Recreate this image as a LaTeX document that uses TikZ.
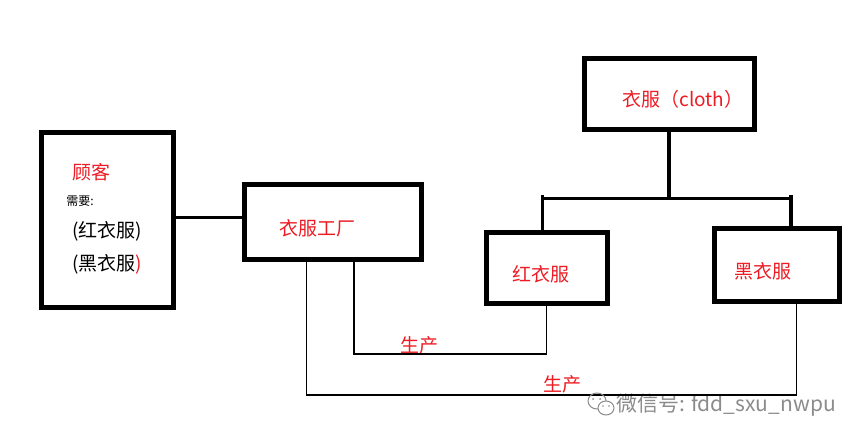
\documentclass[tikz,border=0pt]{standalone}
\usepackage{fontspec}
\setmainfont{Noto Sans CJK SC}
\definecolor{pred}{RGB}{237,28,36}
\definecolor{wm}{RGB}{140,140,140}
\begin{document}
\begin{tikzpicture}[x=1pt,y=-1pt,
  box/.style={draw,line width=5pt,inner sep=0pt,outer sep=0pt},
  lbl/.style={text=pred,font=\fontsize{19}{19}\selectfont,inner sep=0pt},
  blk/.style={text=black,font=\fontsize{19}{19}\selectfont,inner sep=0pt},
  tree/.style={line width=3.5pt},
  thinl/.style={line width=1.2pt}]
\useasboundingbox[fill=white] (0,0) rectangle (863,446);
% boxes
\node[box,minimum width=132pt,minimum height=175pt] (cust) at (107.5,220) {};
\node[box,minimum width=177pt,minimum height=75pt] (fac) at (332.5,222.5) {};
\node[box,minimum width=170pt,minimum height=71pt] (cloth) at (669,94.5) {};
\node[box,minimum width=120.3pt,minimum height=71.5pt] (red) at (546.85,268.25) {};
\node[box,minimum width=124.3pt,minimum height=73pt] (black) at (776.85,265.5) {};
% texts
\node[lbl] (tgk) at (91,172) {顾客};
\node[blk,font=\fontsize{12}{12}\selectfont] (txq) at (80,201) {需要:};
\node[blk] (tred) at (107,231) {(红衣服)};
\node[blk] (tblk) at (107,264) {(黑衣服\textcolor{pred}{)}};
\node[lbl] (tfac) at (317,228) {衣服工厂};
\node[lbl] (tcloth) at (683,99) {衣服（cloth）};
\node[lbl] (tr) at (541,274) {红衣服};
\node[lbl] (tb) at (762.5,271.5) {黑衣服};
\node[lbl] (p1) at (419,345) {生产};
\node[lbl] (p2) at (562,384) {生产};
\node[text=wm,font=\fontsize{21}{21}\selectfont,inner sep=0pt] (wmt) at (726,405) {微信号: fdd\_sxu\_nwpu};
% customer - factory
\coordinate (c1) at ([yshift=2.3pt]cust.east);
\draw[line width=3pt] (c1) -- (c1 -| fac.west);
% tree
\coordinate (bar) at (cloth.south |- 0,198.3);
\coordinate (bl) at (542.5,198.3);
\coordinate (br) at (791,198.3);
\coordinate (blt) at (542.5,195);
\coordinate (brt) at (791,195);
\draw[tree] (cloth.south) -- (bar);
\draw[tree] (bl) -- (br);
\draw[tree] (blt) -- (blt |- red.north);
\draw[tree] (brt) -- (brt |- black.north);
% production lines
\coordinate (f1) at ([xshift=-25.8pt]fac.south);
\coordinate (b1) at ([xshift=19.85pt]black.south);
\draw[thinl] (f1) -- (f1 |- 0,395) -- (b1 |- 0,395) -- (b1);
\coordinate (f2) at ([xshift=21.5pt]fac.south);
\coordinate (r2) at (red.south);
\draw[thinl] (f2) -- (f2 |- 0,354) -- (r2 |- 0,354) -- (r2);
% wechat icon
\draw[wm,line width=1pt] (597,401) ellipse (9pt and 8pt);
\draw[wm,line width=1pt,fill=white] (606,408) ellipse (8pt and 7pt);
\fill[wm] (593,399) circle (1pt) (600,399) circle (1pt) (603,406) circle (0.9pt) (609,406) circle (0.9pt);
\end{tikzpicture}
\end{document}
